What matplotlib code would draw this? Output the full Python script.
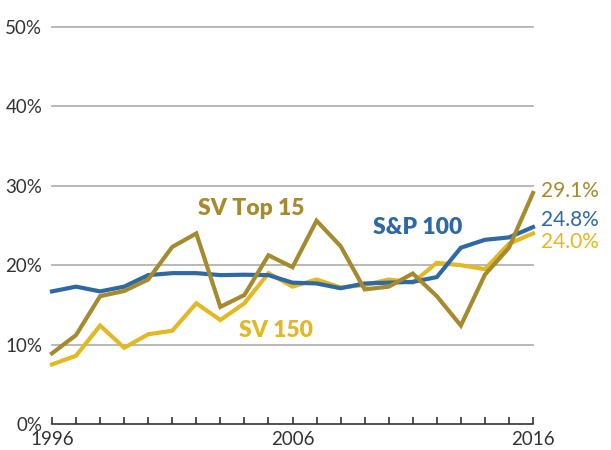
#!/usr/bin/env python3
# Share of market value: SV Top 15, S&P 100, SV 150 (1996-2016)

import matplotlib
matplotlib.use('Agg')
import matplotlib.pyplot as plt

years = list(range(1996, 2017))
sv_top15 = [8.9, 11.2, 16.1, 16.75, 18.2, 22.3, 24.0, 14.75, 16.25, 21.25, 19.75,
            25.6, 22.4, 16.95, 17.3, 18.95, 16.1, 12.4, 18.8, 22.2, 29.1]
sp100 = [16.7, 17.3, 16.7, 17.3, 18.75, 19.0, 19.0, 18.75, 18.8, 18.75, 17.8,
         17.7, 17.1, 17.7, 17.8, 17.9, 18.5, 22.2, 23.2, 23.5, 24.8]
sv150 = [7.5, 8.6, 12.4, 9.6, 11.3, 11.75, 15.2, 13.1, 15.2, 19.0, 17.3,
         18.2, 17.2, 17.5, 18.2, 17.8, 20.3, 20.0, 19.5, 22.7, 24.0]

yticks = [0, 10, 20, 30, 40, 50]
xlabels = {1996: '1996', 2006: '2006', 2016: '2016'}

c_olive = '#a68a2e'
c_blue = '#2f69a3'
c_yellow = '#e2b824'

plt.rcParams['font.family'] = ['Lato', 'DejaVu Sans']

fig = plt.figure(figsize=(6.11, 4.5), dpi=100)
ax = fig.add_axes([52/611, 26/450, 481/611, 397/450])

for yt in yticks[1:]:
    ax.axhline(yt, color='#b3b3b3', lw=1.3, zorder=1, clip_on=False)

ax.plot(years, sv150, color=c_yellow, lw=3, zorder=3, clip_on=False, solid_joinstyle='miter')
ax.plot(years, sp100, color=c_blue, lw=3, zorder=4, clip_on=False, solid_joinstyle='miter')
ax.plot(years, sv_top15, color=c_olive, lw=3, zorder=5, clip_on=False, solid_joinstyle='miter')

ax.set_xlim(1996, 2016)
ax.set_ylim(0, 50)

for s in ['top', 'right', 'left']:
    ax.spines[s].set_visible(False)
ax.spines['bottom'].set_color('#333333')
ax.spines['bottom'].set_linewidth(1.2)

ax.set_xticks(years)
ax.set_xticklabels([xlabels.get(y, '') for y in years])
ax.tick_params(axis='x', direction='in', length=5, width=1.2, color='#333333',
               labelsize=13.5, labelcolor='#333333', pad=5)
ax.set_yticks(yticks)
ax.set_yticklabels(['%d%%' % v for v in yticks])
ax.tick_params(axis='y', length=0, labelsize=13.5, labelcolor='#333333', pad=7)

ax.text(2004.3, 27.1, 'SV Top 15', color=c_olive, fontsize=16.5, fontweight='heavy',
        ha='center', va='center')
ax.text(2005.3, 11.8, 'SV 150', color=c_yellow, fontsize=16.5, fontweight='heavy',
        ha='center', va='center')
ax.text(2011.2, 24.8, 'S&P 100', color=c_blue, fontsize=16.5, fontweight='heavy',
        ha='center', va='center')

ax.text(2016.35, 29.3, '%.1f%%' % sv_top15[-1], color=c_olive, fontsize=15,
        ha='left', va='center', clip_on=False)
ax.text(2016.35, 25.7, '%.1f%%' % sp100[-1], color=c_blue, fontsize=15,
        ha='left', va='center', clip_on=False)
ax.text(2016.35, 22.9, '%.1f%%' % sv150[-1], color=c_yellow, fontsize=15,
        ha='left', va='center', clip_on=False)

fig.savefig('out.png', dpi=100)
